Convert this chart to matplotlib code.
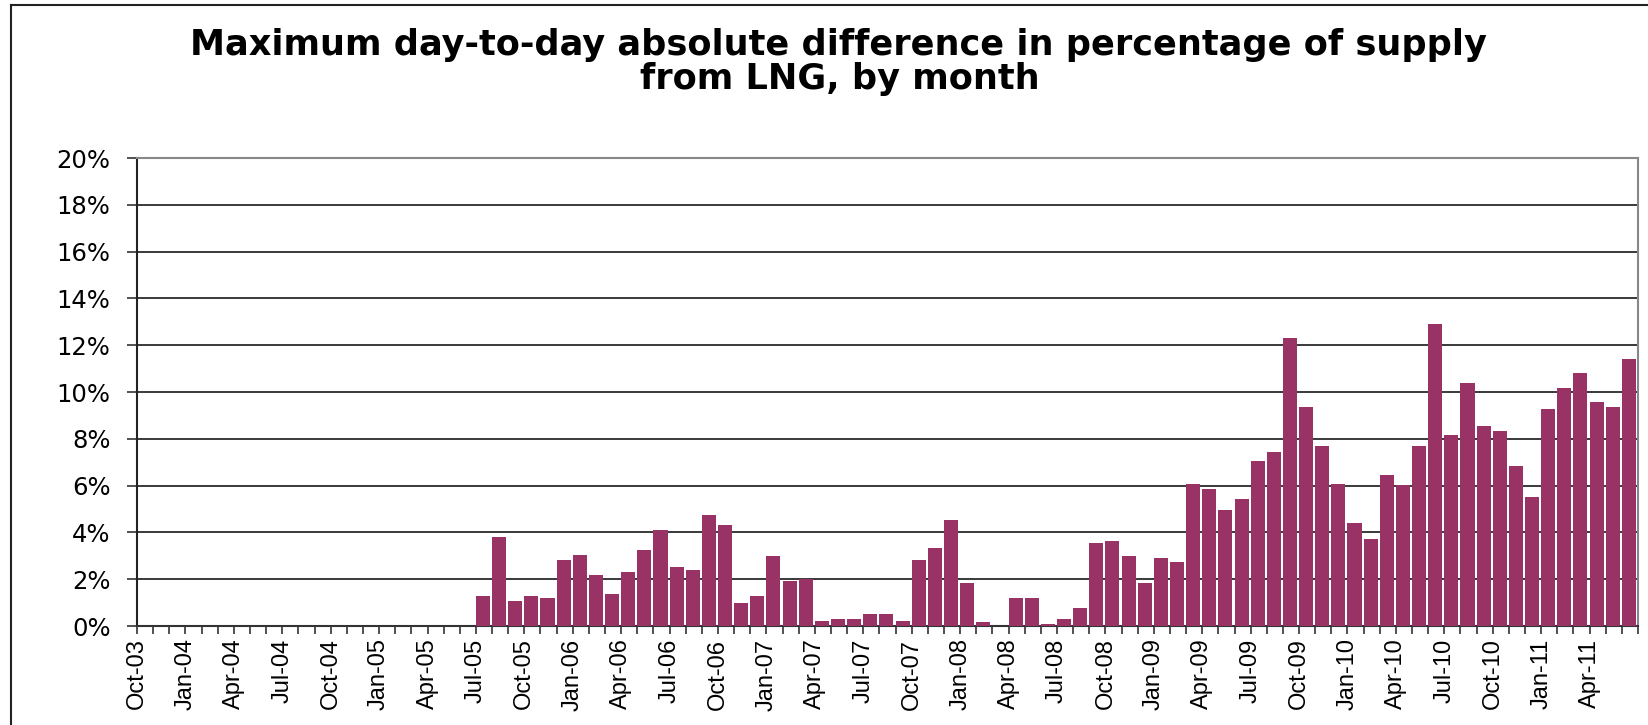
import numpy as np
import matplotlib
matplotlib.use('Agg')
from matplotlib import pyplot as plt
from matplotlib.lines import Line2D

# months Oct-03 .. Jun-11, values in % (no data before Jul-05)
months = ['Oct-03', 'Nov-03', 'Dec-03']
for yr in range(4, 12):
    for m in ['Jan', 'Feb', 'Mar', 'Apr', 'May', 'Jun', 'Jul', 'Aug', 'Sep', 'Oct', 'Nov', 'Dec']:
        months.append('{}-{:02d}'.format(m, yr))
months = months[:93]

vals_2003_05 = [0] * 21   # Oct-03 .. Jun-05
vals_2005 = [1.27, 3.80, 1.06, 1.27, 1.19, 2.81]
vals_2006 = [3.03, 2.17, 1.36, 2.30, 3.24, 4.10, 2.51, 2.39, 4.74, 4.31, 0.97, 1.27]
vals_2007 = [2.99, 1.91, 2.00, 0.20, 0.29, 0.29, 0.50, 0.50, 0.20, 2.81, 3.33, 4.53]
vals_2008 = [1.83, 0.16, 0.0, 1.19, 1.19, 0.07, 0.29, 0.76, 3.54, 3.63, 2.99, 1.83]
vals_2009 = [2.90, 2.73, 6.07, 5.85, 4.96, 5.43, 7.05, 7.44, 12.31, 9.36, 7.69, 6.07]
vals_2010 = [4.40, 3.72, 6.45, 6.03, 7.69, 12.90, 8.16, 10.38, 8.55, 8.33, 6.84, 5.51]
vals_2011 = [9.27, 10.17, 10.81, 9.57, 9.36, 11.41]

values = np.array(vals_2003_05 + vals_2005 + vals_2006 + vals_2007 + vals_2008
                  + vals_2009 + vals_2010 + vals_2011) / 100.0

fig = plt.figure(figsize=(16.48, 7.25), dpi=100)
W, H = 1648, 725
ax = fig.add_axes([137 / W, 1 - 626 / H, (1638 - 137) / W, (626 - 158) / H])

x = np.arange(len(values))
ax.bar(x, values, width=0.87, align='edge', color='#993366', zorder=3)

ax.set_xlim(0, len(values))
ax.set_ylim(0, 0.20)
yt = np.arange(0, 0.2001, 0.02)
ax.set_yticks(yt)
ax.set_yticklabels(['{:d}%'.format(int(round(v * 100))) for v in yt], fontsize=17.5)
ax.yaxis.grid(True, color='#2a2a2a', linewidth=1.3, zorder=0)

ax.set_xticks(x[::3])
ax.set_xticklabels(months[::3], rotation=90, fontsize=17, family='Liberation Sans')
ax.set_xticks(np.arange(len(values) + 1), minor=True)
ax.tick_params(axis='x', which='both', direction='out', length=6, width=1.2,
               color='#333333', pad=3)
ax.tick_params(axis='y', direction='out', length=7, width=1.2, color='#333333', pad=12)

for s in ['top', 'right']:
    ax.spines[s].set_color('#888888')
    ax.spines[s].set_linewidth(1.5)
ax.spines['left'].set_color('#222222')
ax.spines['left'].set_linewidth(1.5)
ax.spines['bottom'].set_color('#333333')
ax.spines['bottom'].set_linewidth(1.5)

fig.text(838 / W, 1 - 55 / H, 'Maximum day-to-day absolute difference in percentage of supply',
         ha='center', va='baseline', fontsize=25.3, fontweight='bold')
fig.text(840 / W, 1 - 89 / H, 'from LNG, by month',
         ha='center', va='baseline', fontsize=25.3, fontweight='bold')

# outer chart border (left and top only visible)
fig.add_artist(Line2D([11 / W, 11 / W], [0, 1 - 5 / H], color='#222222', linewidth=1.5))
fig.add_artist(Line2D([11 / W, 1], [1 - 5 / H, 1 - 5 / H], color='#222222', linewidth=1.5))

fig.savefig('out.png', dpi=100)
